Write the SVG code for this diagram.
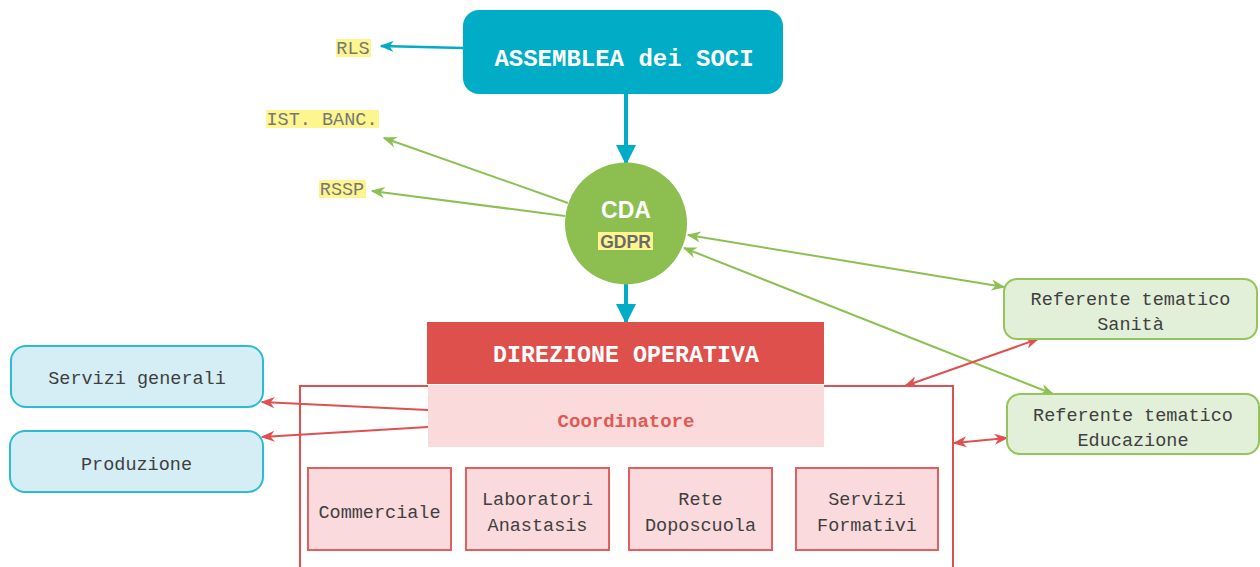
<svg xmlns="http://www.w3.org/2000/svg" width="1260" height="567" viewBox="0 0 1260 567">
<style>
.mono{font-family:"Liberation Mono","DejaVu Sans Mono",monospace;font-size:18.5px;fill:#3f3f3f;text-anchor:middle}
.lbl{font-family:"Liberation Mono","DejaVu Sans Mono",monospace;font-size:18.5px;fill:#777;text-anchor:middle}
.hl{fill:#fdf58d}
.blue{stroke:#00acc6;fill:none}
.green{stroke:#8cc052;stroke-width:2;fill:none}
.red{stroke:#e05050;stroke-width:2;fill:none}
.sub{fill:#fadadd;stroke:#e06060;stroke-width:2}
.lb{fill:#d5eef5;stroke:#2bbcd2;stroke-width:2}
.lg{fill:#e2efd9;stroke:#92c65a;stroke-width:2}
</style>
<defs>
<marker id="ab" viewBox="0 0 10 10" refX="9" refY="5" markerWidth="14" markerHeight="14" orient="auto-start-reverse" markerUnits="userSpaceOnUse"><path d="M0,1 L10,5 L0,9 L3,5 z" fill="#00acc6"/></marker>
<marker id="abig" viewBox="0 0 10 10" refX="9" refY="5" markerWidth="20" markerHeight="20" orient="auto" markerUnits="userSpaceOnUse"><path d="M0,0 L10,5 L0,10 z" fill="#00acc6"/></marker>
<marker id="ag" viewBox="0 0 10 10" refX="9" refY="5" markerWidth="14" markerHeight="14" orient="auto-start-reverse" markerUnits="userSpaceOnUse"><path d="M0,1 L10,5 L0,9 L3,5 z" fill="#8cc052"/></marker>
<marker id="ar" viewBox="0 0 10 10" refX="9" refY="5" markerWidth="14" markerHeight="14" orient="auto-start-reverse" markerUnits="userSpaceOnUse"><path d="M0,1 L10,5 L0,9 L3,5 z" fill="#e05050"/></marker>
</defs>
<rect width="1260" height="567" fill="#ffffff"/>

<g id="connectors">
<line class="blue" stroke-width="2.5" x1="463" y1="48" x2="381" y2="46" marker-end="url(#ab)"/>
<line class="blue" stroke-width="4" x1="626" y1="94" x2="626" y2="163" marker-end="url(#abig)"/>
<line class="blue" stroke-width="4" x1="626" y1="284" x2="626" y2="322" marker-end="url(#abig)"/>
<line class="green" x1="568" y1="203" x2="384" y2="138" marker-end="url(#ag)"/>
<line class="green" x1="565" y1="216" x2="372" y2="191" marker-end="url(#ag)"/>
<line class="green" x1="688" y1="235" x2="1004" y2="287" marker-start="url(#ag)" marker-end="url(#ag)"/>
<line class="green" x1="684" y1="248" x2="1053" y2="394" marker-start="url(#ag)" marker-end="url(#ag)"/>
<line class="red" x1="428" y1="410" x2="262" y2="402" marker-end="url(#ar)"/>
<line class="red" x1="428" y1="427" x2="262" y2="437" marker-end="url(#ar)"/>
<line class="red" x1="1038" y1="339" x2="905" y2="386" marker-start="url(#ar)" marker-end="url(#ar)"/>
<line class="red" x1="954" y1="443" x2="1007" y2="438" marker-start="url(#ar)" marker-end="url(#ar)"/>
</g>

<g id="assemblea">
<rect x="463" y="10" width="320" height="84" rx="16" fill="#00acc6"/>
<text x="624" y="66" font-family="Liberation Mono, DejaVu Sans Mono, monospace" font-weight="bold" font-size="24" fill="#ffffff" text-anchor="middle">ASSEMBLEA dei SOCI</text>
</g>

<g id="rls">
<rect class="hl" x="336" y="39" width="35" height="18"/>
<text class="lbl" x="353" y="54">RLS</text>
</g>
<g id="istbanc">
<rect class="hl" x="266" y="110" width="113" height="18"/>
<text class="lbl" x="322" y="125">IST. BANC.</text>
</g>
<g id="rssp">
<rect class="hl" x="319" y="180" width="47" height="18"/>
<text class="lbl" x="342" y="195">RSSP</text>
</g>

<g id="cda">
<circle cx="626" cy="223.5" r="61" fill="#8cbe50"/>
<text x="626" y="218" font-family="Liberation Sans, Arial, sans-serif" font-weight="bold" font-size="23" fill="#ffffff" text-anchor="middle">CDA</text>
<rect class="hl" x="598" y="232" width="55" height="18"/>
<text x="625.5" y="248" font-family="Liberation Sans, Arial, sans-serif" font-weight="bold" font-size="17.5" fill="#6a6a6a" text-anchor="middle">GDPR</text>
</g>

<g id="area-operativa">
<rect x="300" y="386" width="653" height="200" fill="none" stroke="#e05050" stroke-width="2"/>
</g>

<g id="direzione">
<rect x="427" y="322" width="397" height="62" fill="#de504b"/>
<text x="626" y="362" font-family="Liberation Mono, DejaVu Sans Mono, monospace" font-weight="bold" font-size="24" fill="#ffffff" text-anchor="middle" textLength="266" lengthAdjust="spacingAndGlyphs">DIREZIONE OPERATIVA</text>
</g>

<g id="coordinatore">
<rect x="428" y="385" width="396" height="62" fill="#fadadb"/>
<text x="626" y="427" font-family="Liberation Mono, DejaVu Sans Mono, monospace" font-weight="bold" font-size="19" fill="#e05a55" text-anchor="middle">Coordinatore</text>
</g>

<g id="commerciale">
<rect class="sub" x="308" y="468" width="143" height="82"/>
<text class="mono" x="379.5" y="518">Commerciale</text>
</g>
<g id="laboratori">
<rect class="sub" x="466" y="468" width="143" height="82"/>
<text class="mono" x="537.5" y="505">Laboratori</text>
<text class="mono" x="537.5" y="531">Anastasis</text>
</g>
<g id="rete">
<rect class="sub" x="629" y="468" width="143" height="82"/>
<text class="mono" x="700.5" y="505">Rete</text>
<text class="mono" x="700.5" y="531">Doposcuola</text>
</g>
<g id="formativi">
<rect class="sub" x="796" y="468" width="142" height="82"/>
<text class="mono" x="867" y="505">Servizi</text>
<text class="mono" x="867" y="531">Formativi</text>
</g>

<g id="servizi-generali">
<rect class="lb" x="11" y="346" width="252" height="61" rx="15"/>
<text class="mono" x="137" y="384">Servizi generali</text>
</g>
<g id="produzione">
<rect class="lb" x="10" y="431" width="253" height="61" rx="15"/>
<text class="mono" x="136.5" y="470">Produzione</text>
</g>

<g id="ref-sanita">
<rect class="lg" x="1004" y="279" width="253" height="60" rx="13"/>
<text class="mono" x="1130.5" y="305">Referente tematico</text>
<text class="mono" x="1130.5" y="330">Sanità</text>
</g>
<g id="ref-educazione">
<rect class="lg" x="1007" y="394" width="252" height="60" rx="13"/>
<text class="mono" x="1133" y="421">Referente tematico</text>
<text class="mono" x="1133" y="446">Educazione</text>
</g>
</svg>
